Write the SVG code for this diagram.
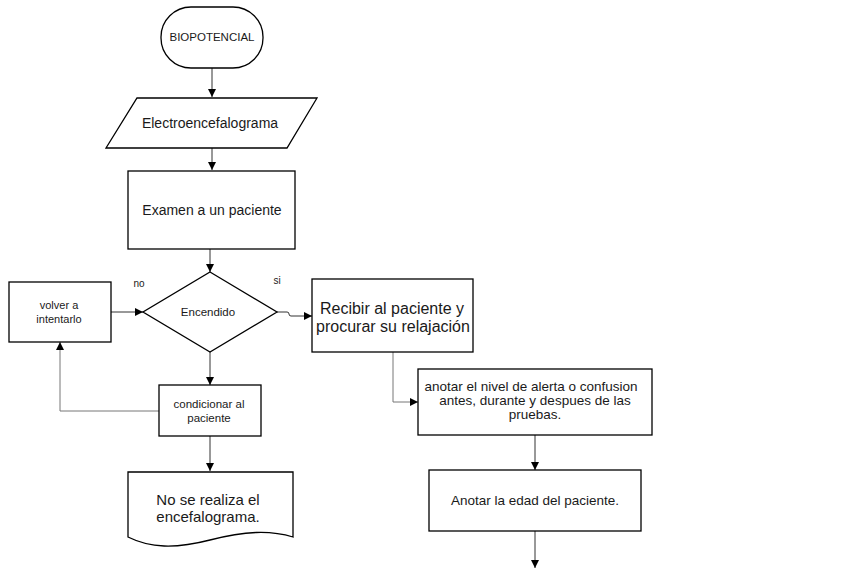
<svg xmlns="http://www.w3.org/2000/svg" width="848" height="570" viewBox="0 0 848 570">
<defs>
<style>
.n{fill:#fff;stroke:#000;stroke-width:1.3}
.t{font-family:"Liberation Sans",Arial,sans-serif;fill:#1a1a1a;text-anchor:middle}
.c{fill:none;stroke:#333;stroke-width:1}
.g{fill:none;stroke:#777;stroke-width:1}
</style>
<marker id="a" viewBox="0 0 10 10" refX="10" refY="5" markerWidth="8" markerHeight="8" markerUnits="userSpaceOnUse" orient="auto">
<path d="M0,0 L10,5 L0,10 z" fill="#000"/>
</marker>
</defs>
<rect width="848" height="570" fill="#fff"/>
<g id="connectors">
<path class="c" d="M212,68 V97" marker-end="url(#a)"/>
<path class="c" d="M212,148 V170" marker-end="url(#a)"/>
<path class="c" d="M210,249 V272" marker-end="url(#a)"/>
<path class="c" d="M111,312 H143" marker-end="url(#a)"/>
<path class="c" d="M210,352 V385" marker-end="url(#a)"/>
<path class="g" d="M159,411 H60 V342" marker-end="url(#a)"/>
<path class="c" d="M210,436 V471" marker-end="url(#a)"/>
<path class="c" d="M277,312 H287 q2,0 2,2 q0,2 2,2 H312" marker-end="url(#a)"/>
<path class="g" d="M393,352 V402 H418" marker-end="url(#a)"/>
<path class="c" d="M535,435 V470" marker-end="url(#a)"/>
<path class="c" d="M535,531 V568" marker-end="url(#a)"/>
<text class="t" x="139" y="287" font-size="10">no</text>
<text class="t" x="277" y="284" font-size="10">si</text>
</g>
<g id="biopotencial">
<rect class="n" x="161" y="7" width="102" height="61" rx="30" ry="30"/>
<text class="t" x="212" y="41" font-size="11.5">BIOPOTENCIAL</text>
</g>
<g id="electroencefalograma">
<polygon class="n" points="137,98 317,98 287,148 106,148"/>
<text class="t" x="210" y="128" font-size="14">Electroencefalograma</text>
</g>
<g id="examen">
<rect class="n" x="128" y="171" width="167" height="78"/>
<text class="t" x="212" y="215" font-size="14">Examen a un paciente</text>
</g>
<g id="encendido">
<polygon class="n" points="210,272 277,312 210,352 143,312"/>
<text class="t" x="208" y="316" font-size="11.5">Encendido</text>
</g>
<g id="volver">
<rect class="n" x="9" y="282" width="102" height="60"/>
<text class="t" x="59" y="309" font-size="11">volver a</text>
<text class="t" x="59" y="323" font-size="11">intentarlo</text>
</g>
<g id="condicionar">
<rect class="n" x="159" y="385" width="102" height="51"/>
<text class="t" x="209" y="408" font-size="11.5">condicionar al</text>
<text class="t" x="209" y="422" font-size="11.5">paciente</text>
</g>
<g id="no-realiza">
<path class="n" d="M128,472 H293 V537 C270,530 245,531 210,540 C175,549 150,548 128,537 Z"/>
<text class="t" x="208" y="505" font-size="15">No se realiza el</text>
<text class="t" x="208" y="522" font-size="15">encefalograma.</text>
</g>
<g id="recibir">
<rect class="n" x="312" y="279" width="161" height="73"/>
<text class="t" x="392" y="314" font-size="16">Recibir al paciente y</text>
<text class="t" x="393" y="332" font-size="16">procurar su relajación</text>
</g>
<g id="anotar-nivel">
<rect class="n" x="418" y="369" width="234" height="66"/>
<text class="t" x="531" y="391" font-size="13.5">anotar el nivel de alerta o confusion</text>
<text class="t" x="535" y="405" font-size="13.5">antes, durante y despues de las</text>
<text class="t" x="535" y="419" font-size="13.5">pruebas.</text>
</g>
<g id="anotar-edad">
<rect class="n" x="429" y="470" width="212" height="61"/>
<text class="t" x="535" y="505" font-size="13.5">Anotar la edad del paciente.</text>
</g>
</svg>
